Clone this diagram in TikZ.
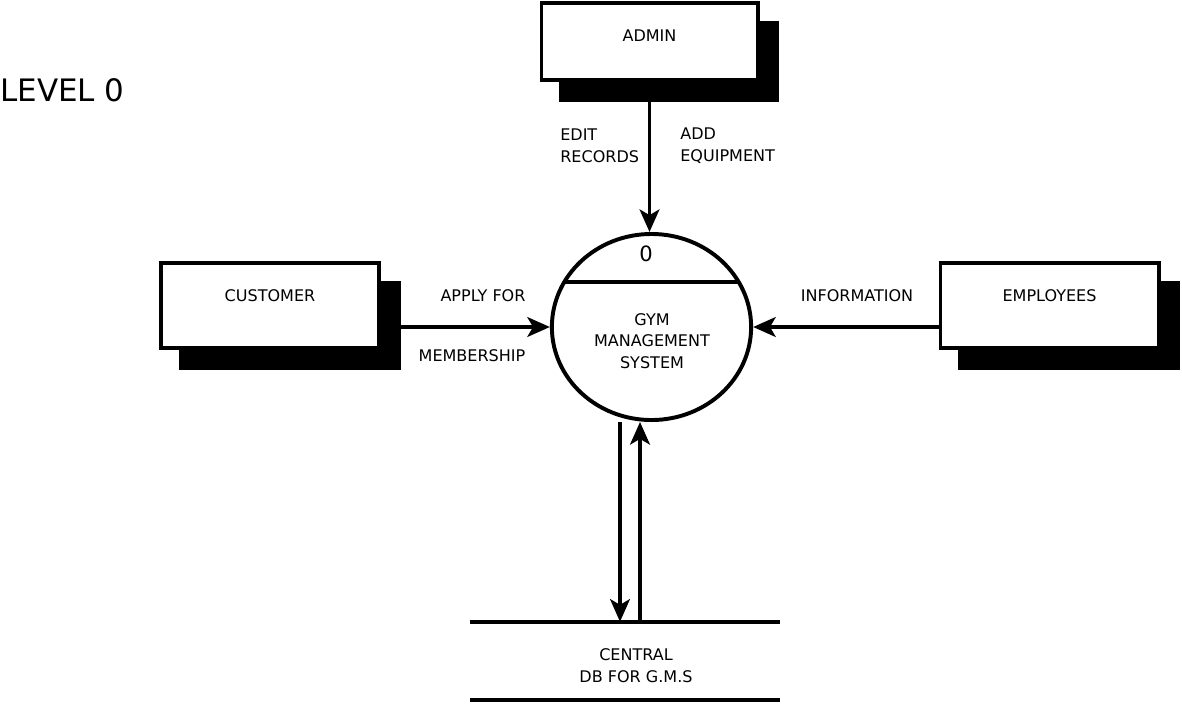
\documentclass[tikz,border=0pt]{standalone}
\usepackage{fontspec}
\setmainfont{DejaVu Sans}
\usepackage{tikz}
\usetikzlibrary{shapes.geometric, arrows.meta, shadows, calc}
\newcommand{\dfdfont}{\fontsize{11.4pt}{15.5pt}\selectfont}
\tikzstyle{entity} = [rectangle, minimum width=5.45cm, minimum height=2.12cm, text height=8.3pt, text depth=14pt, draw=black, line width=2.8pt, fill=white, drop shadow={shadow xshift=14.2pt, shadow yshift=-14.2pt, opacity=1, fill=black, draw=black}]
\tikzstyle{process} = [ellipse, minimum width=4.98cm, minimum height=4.65cm, inner sep=0pt, draw=black, line width=2.8pt]
\tikzstyle{store} = [rectangle, minimum width=7.75cm, minimum height=1.95cm]
\tikzstyle{flow} = [line width=2.8pt, -{Stealth[length=16pt, width=14pt, inset=4pt]}]

\begin{document}
\begin{tikzpicture}[x=0.025cm, y=-0.025cm, every node/.style={font=\dfdfont}]
  \useasboundingbox (0,0) rectangle (1182,706);
  \node (level) [anchor=west, inner sep=0pt, font=\fontsize{22pt}{26pt}\selectfont] at (0,90) {LEVEL 0};
  \node (admin) [entity, minimum width=5.4cm, minimum height=1.92cm, text depth=8.3pt] at (649.5,41.5) {ADMIN};
  \node (customer) [entity] at (270,305.5) {CUSTOMER};
  \node (employees) [entity] at (1049.5,305.5) {EMPLOYEES};
  \node (gms) [process] at (651.5,327) {};
  \node (pid) [font=\fontsize{15pt}{18pt}\selectfont] at (646,254) {0};
  \node (gmsname) [align=center] at (652,341) {GYM\\MANAGEMENT\\SYSTEM};
  \node (db) [store] at (625,661) {};
  \node (dbname) [align=center] at (636,666) {CENTRAL\\DB FOR G.M.S};
  % flow labels
  \node (editlbl) [anchor=west, align=left, inner sep=0pt] at (560,146) {EDIT\\RECORDS};
  \node (addlbl) [anchor=west, align=left, inner sep=0pt] at (680,146) {ADD\\EQUIPMENT};
  \node (applylbl) at (483,296) {APPLY FOR};
  \node (memberlbl) at (472,356) {MEMBERSHIP};
  \node (infolbl) at (857,296) {INFORMATION};
  \draw [line width=2.8pt] ($(gms.center)+(-88,-45)$) -- ($(gms.center)+(88,-45)$);
  \draw [flow] (admin.south) -- (admin.south |- gms.north);
  \draw [flow] (customer.east |- gms.west) -- (gms.west);
  \draw [flow] (employees.west |- gms.east) -- (gms.east);
  \coordinate (gmsout) at ($(gms.south)+(-31.5,0)$);
  \coordinate (gmsin) at ($(gms.south)+(-11.5,0)$);
  \draw [flow] (gmsout) -- (gmsout |- db.north);
  \draw [flow] (gmsin |- db.north) -- (gmsin);
  \draw [line width=2.8pt] (db.north west) -- (db.north east);
  \draw [line width=2.8pt] (db.south west) -- (db.south east);
\end{tikzpicture}
\end{document}
